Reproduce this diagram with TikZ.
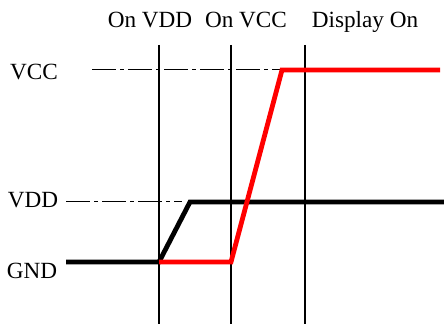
\documentclass[tikz,border=0pt]{standalone}
\usepackage{fontspec}
\setmainfont{Liberation Serif}
\usetikzlibrary{positioning}
\definecolor{vccred}{rgb}{1.00,0.00,0.00}

\begin{document}
\begin{tikzpicture}[
  x = 0.5pt, y = -0.5pt,
  every node/.style = {font=\fontsize{11.6}{14}\selectfont, inner sep=0pt},
  %% line styles
  marker/.style = {line width=1.3pt, draw=black},
  level/.style  = {line width=0.5pt, draw=black,
                   dash pattern=on 12pt off 2pt on 2pt off 2pt},
  sigvdd/.style = {line width=2.4pt, draw=black, line join=miter},
  sigvcc/.style = {line width=2.4pt, draw=vccred, line join=miter}
]
\useasboundingbox (0,0) rectangle (444,324);

%% ---- Labels ----
\node (VCCL) at (34,72)  {VCC};
\node (VDDL) at (33,200) {VDD};
\node (GNDL) at (32,271) {GND};

\node[anchor=base] (ONVDD) at (150,28) {On VDD};
\node[anchor=base] (ONVCC) at (246,28) {On VCC};
\node[anchor=base] (DISP)  at (365,28) {Display On};

%% ---- Points ----
\coordinate (T1) at (159,45);  \coordinate (B1) at (159,324);
\coordinate (T2) at (231,45);  \coordinate (B2) at (231,324);
\coordinate (T3) at (305,45);  \coordinate (B3) at (305,324);

\coordinate (VCCa) at (92,70);  \coordinate (VCCb) at (295,70);
\coordinate (VDDa) at (66,202); \coordinate (VDDb) at (182,202);

\coordinate (G0) at (66,262);   \coordinate (G1) at (159,262);
\coordinate (D1) at (190,202);  \coordinate (D2) at (444,202);
\coordinate (R1) at (231,262);  \coordinate (R2) at (282,70);
\coordinate (R3) at (440,70);

%% ---- Event markers ----
\draw[marker] (T1) -- (B1);
\draw[marker] (T2) -- (B2);
\draw[marker] (T3) -- (B3);

%% ---- Reference levels ----
\draw[level] (VCCa) -- (VCCb);
\draw[level] (VDDa) -- (VDDb);

%% ---- Supplies ----
\draw[sigvdd] (G0) -- (G1) -- (D1) -- (D2);
\draw[sigvcc] (G1) -- (R1) -- (R2) -- (R3);

\end{tikzpicture}
\end{document}
